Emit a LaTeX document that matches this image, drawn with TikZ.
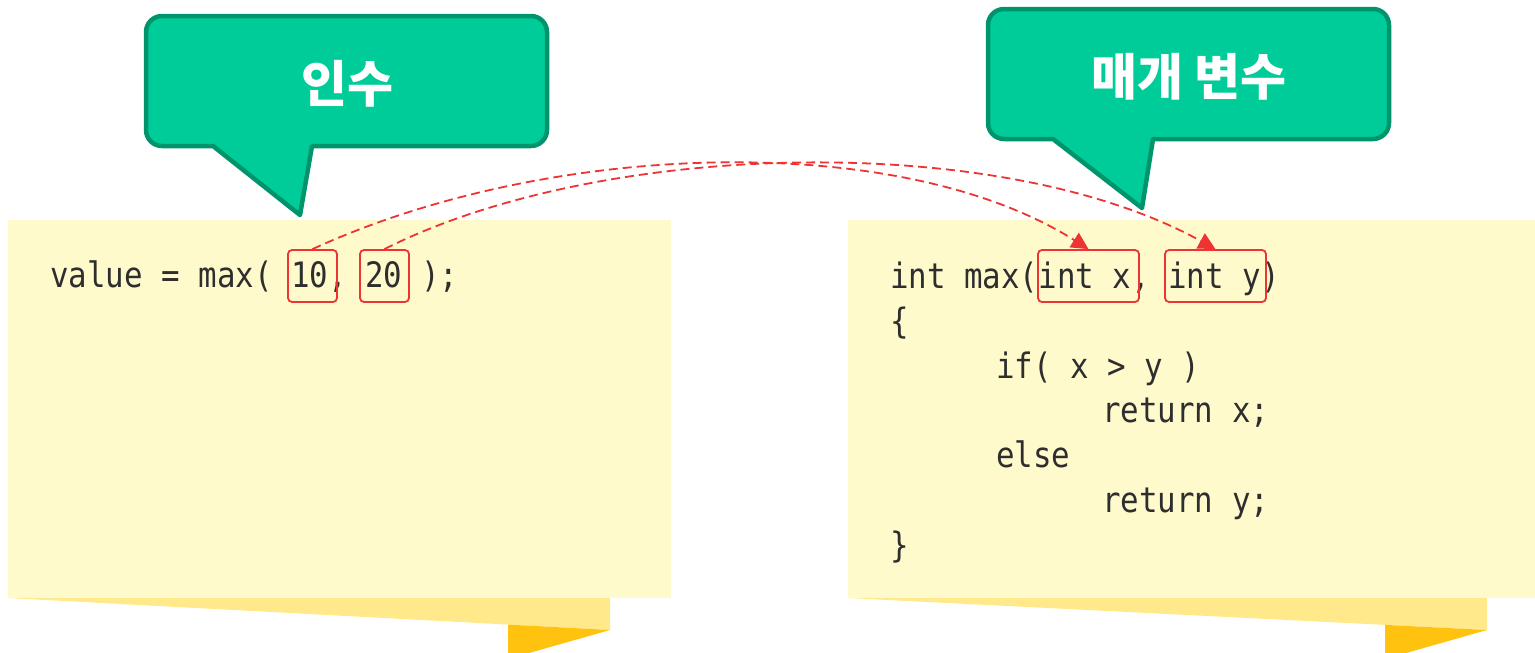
\documentclass[tikz,border=0pt]{standalone}
\usepackage{fontspec}
\usetikzlibrary{arrows.meta}
\newfontfamily\krfont{Noto Sans CJK KR}
\newfontfamily\codefont[FakeStretch=0.88]{DejaVu Sans Mono}
\definecolor{paper}{HTML}{FFFACC}
\definecolor{foldlight}{HTML}{FFE98A}
\definecolor{folddark}{HTML}{FFC20E}
\definecolor{bubble}{HTML}{00CC99}
\definecolor{bubbleedge}{HTML}{00946C}
\definecolor{codeink}{HTML}{2E2E2E}
\definecolor{linkred}{HTML}{EE3333}
\tikzset{
  codeline/.style={anchor=base west, inner sep=0pt, text=codeink,
    font=\codefont\fontsize{35}{35}\selectfont},
  title/.style={text=white, inner sep=0pt,
    font=\krfont\bfseries\fontsize{50}{50}\selectfont},
  bubbleshape/.style={fill=bubble, draw=bubbleedge, line width=4.5pt, line join=round},
  hl/.style={draw=linkred, line width=1.8pt, rounded corners=4pt, inner sep=0pt},
  link/.style={draw=linkred, line width=1.8pt, dash pattern=on 9pt off 5pt,
    -{Triangle[length=17pt,width=17pt]}},
}
\begin{document}
\begin{tikzpicture}[x=1pt,y=-1pt]
\useasboundingbox (0,0) rectangle (1535,653);
\clip (0,0) rectangle (1535,653);

% left note: fold under the paper
\fill[foldlight] (8,598) -- (610,598) -- (610,630) -- cycle;
\fill[folddark] (508,624.6) -- (610,630) -- (508,659) -- cycle;
\fill[paper] (8,220) rectangle (671,598);

% right note: fold under the paper
\fill[foldlight] (848,598) -- (1487,598) -- (1487,630) -- cycle;
\fill[folddark] (1385,624.9) -- (1487,630) -- (1385,659) -- cycle;
\fill[paper] (848,220) rectangle (1540,598);

% speech bubbles
\draw[bubbleshape] (213,146) [rounded corners=16pt] -- (146,146) -- (146,16)
  -- (547,16) -- (547,146) [sharp corners] -- (312,146) -- (300,215) -- cycle;
\node[title] (argtitle) at (347,84) {인수};

\draw[bubbleshape] (1053,139) [rounded corners=16pt] -- (988,139) -- (988,9)
  -- (1389,9) -- (1389,139) [sharp corners] -- (1153,139) -- (1142,208) -- cycle;
\node[title] (partitle) at (1189,77) {매개 변수};

% calling code
\node[codeline] (call) at (50,287) {value = max( 10, 20 );};

% function definition
\node[codeline] (l1) at (890,288) {int max(int x, int y)};
\node[codeline] (l2) at (890,333) {\{};
\node[codeline] (l3) at (996,378) {if( x > y )};
\node[codeline] (l4) at (1102,422) {return x;};
\node[codeline] (l5) at (996,467) {else};
\node[codeline] (l6) at (1102,512) {return y;};
\node[codeline] (l7) at (890,557) {\}};

% highlighted arguments and parameters
\node[hl, minimum width=49pt, minimum height=52pt] (a10) at (312.5,276) {};
\node[hl, minimum width=49pt, minimum height=52pt] (a20) at (384.5,276) {};
\node[hl, minimum width=101pt, minimum height=52pt] (px) at (1088.5,276) {};
\node[hl, minimum width=101pt, minimum height=52pt] (py) at (1215.5,276) {};

% argument passing
\draw[link] (a10.north) .. controls (550,140) and (900,130) .. (px.north);
\draw[link] (a20.north) .. controls (600,140) and (1000,130) .. (py.north);
\end{tikzpicture}
\end{document}
